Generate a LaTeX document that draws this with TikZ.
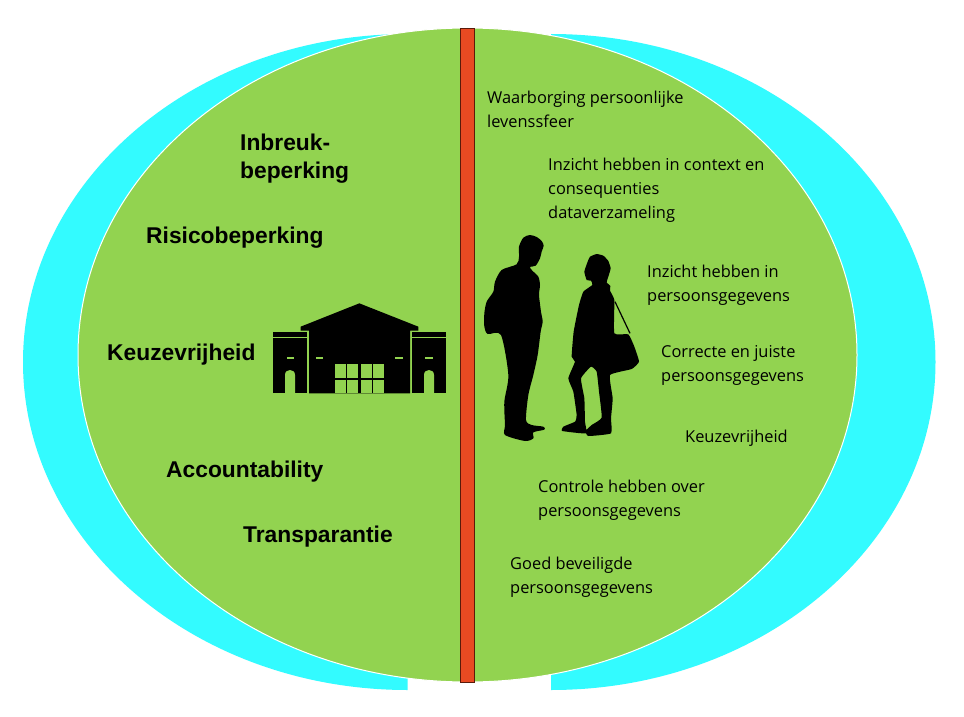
\documentclass[tikz,border=0pt]{standalone}
\usepackage{fontspec}
\setmainfont{Open Sans}
\newfontfamily\boldfont{Liberation Sans}[BoldFont={Liberation Sans Bold}]
\definecolor{cyanback}{HTML}{33FBFF}
\definecolor{leaf}{HTML}{92D350}
\definecolor{barfill}{HTML}{E84A22}
\definecolor{barline}{HTML}{5A1A0A}
\tikzset{
  sidetext/.style={anchor=west,inner sep=0pt,align=left,font=\fontsize{16.4}{24}\selectfont,text=black},
  headtext/.style={anchor=west,inner sep=0pt,align=left,font=\fontsize{22.8}{28}\selectfont\boldfont\bfseries},
  ink/.style={fill=black,draw=none},
  hole/.style={fill=leaf,draw=none},
  zoomA/.style={shift={(260,290)},x=0.33333pt,y=-0.33333pt},
  zoomB/.style={shift={(475,225)},x=0.33333pt,y=-0.33333pt}
}
\begin{document}
\begin{tikzpicture}[x=1pt,y=-1pt]
\useasboundingbox (0,0) rectangle (964,717);
\fill[white] (0,0) rectangle (964,717);
% cyan crescents
\begin{scope}
  \clip (0,0) rectangle (407.5,717);
  \fill[cyanback] (407.5,362) ellipse [x radius=384.5pt,y radius=328pt];
\end{scope}
\begin{scope}
  \clip (551,0) rectangle (964,717);
  \fill[cyanback] (551,362) ellipse [x radius=384.5pt,y radius=328pt];
\end{scope}
% green disc
\draw[white,line width=1pt,fill=leaf] (467.5,355) ellipse [x radius=389.5pt,y radius=327pt];
% red bar
\draw[barline,line width=1pt,fill=barfill] (460.5,28.5) rectangle (474.5,682.5);
% building
\begin{scope}[zoomA]
  \fill[ink] (298,40) -- (475,110) -- (475,122) -- (450,122) -- (450,310) -- (147,310) -- (147,122) -- (122,122) -- (122,110) -- cycle;
  \foreach \xa/\xb in {226/258,262/294,303/335,339/372}{
    \fill[hole] (\xa,223) rectangle (\xb,265);
    \fill[hole] (\xa,270) rectangle (\xb,310);
  }
  \fill[hole] (168,200) rectangle (190,208);
  \fill[hole] (406,200) rectangle (428,208);
  \fill[ink] (39,127) rectangle (141,140);
  \fill[ink] (39,145) rectangle (141,310);
  \fill[hole] (80,200) rectangle (102,208);
  \fill[hole] (75,310) -- (75,255) .. controls (75,235) and (105,235) .. (105,255) -- (105,310) -- cycle;
  \fill[ink] (457,127) rectangle (558,140);
  \fill[ink] (457,145) rectangle (558,310);
  \fill[hole] (495,200) rectangle (518,208);
  \fill[hole] (492,310) -- (492,255) .. controls (492,235) and (522,235) .. (522,255) -- (522,310) -- cycle;
\end{scope}
% people
\begin{scope}[zoomB]
  \fill[ink] plot[smooth cycle,tension=0.45] coordinates {
    (165,30)(185,36)(200,48)(206,62)(200,80)(195,100)(182,122)(165,126)(172,137)(190,155)(195,180)(192,210)(198,260)(203,290)(197,320)(188,390)(175,450)(160,510)(153,585)(170,600)(205,605)(208,614)(175,622)(175,640)(150,648)(90,630)(90,600)(88,530)(100,450)(78,330)(38,327)(28,305)(28,265)(35,230)(55,200)(60,170)(80,135)(125,118)(132,95)(132,65)(145,38)};
  \fill[ink] plot[smooth cycle,tension=0.25] coordinates {
    (365,87)(385,92)(400,108)(407,130)(400,155)(395,172)(406,183)(405,197)(418,225)(418,325)(460,328)(478,365)(492,410)(470,432)(405,450)(413,520)(408,580)(408,625)(340,633)(332,618)(350,600)(380,578)(372,500)(365,440)(348,425)(318,460)(328,520)(330,590)(333,625)(262,618)(265,605)(300,590)(305,570)(295,500)(280,460)(300,410)(290,395)(296,320)(312,240)(325,200)(352,180)(348,167)(335,165)(328,140)(338,110)(345,95)};
  \draw[black,line width=1.2pt] (420,230) -- (465,325);
\end{scope}
% left labels
\node[headtext] (inbreuk) at (240,158.5) {Inbreuk-\\beperking};
\node[headtext] (risico) at (146,238) {Risicobeperking};
\node[headtext] (keuzeL) at (107,355) {Keuzevrijheid};
\node[headtext] (account) at (166,472) {Accountability};
\node[headtext] (transp) at (243,537) {Transparantie};
% right labels
\node[sidetext] (waarborg) at (487,109) {Waarborging persoonlijke\\levenssfeer};
\node[sidetext] (context) at (548,190.5) {Inzicht hebben in context en\\consequenties\\dataverzameling};
\node[sidetext] (inzicht) at (647,285) {Inzicht hebben in\\persoonsgegevens};
\node[sidetext] (correct) at (661,365) {Correcte en juiste\\persoonsgegevens};
\node[sidetext] (keuzeR) at (685,438) {Keuzevrijheid};
\node[sidetext] (controle) at (538,500) {Controle hebben over\\persoonsgegevens};
\node[sidetext] (beveilig) at (510,577) {Goed beveiligde\\persoonsgegevens};
\end{tikzpicture}
\end{document}
